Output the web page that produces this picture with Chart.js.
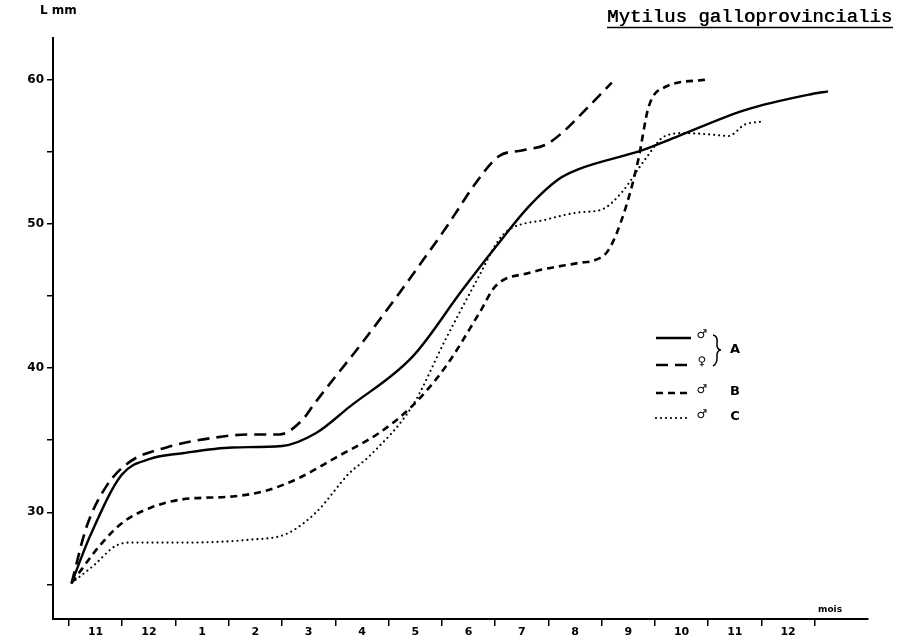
<!DOCTYPE html>
<html>
<head>
<meta charset="utf-8">
<script src="https://cdn.jsdelivr.net/npm/chart.js@4"></script>
<style>
  html, body { margin: 0; padding: 0; background: #fff; }
  #wrap { width: 901px; height: 640px; }
</style>
</head>
<body>
<div id="wrap"><canvas id="chart"></canvas></div>
<script>
// month labels, centred between the month boundary ticks
var monthLabels = ["11", "12", "1", "2", "3", "4", "5", "6", "7", "8", "9", "10", "11", "12"];
var yLabelTicks = [25, 30, 35, 40, 45, 50, 55, 60];

// A, solid line
var aSolidT = [0.05, 0.39, 0.99, 1.52, 2.13, 3.07, 4.0, 4.64, 5.26, 6.45, 7.38, 8.01, 8.63, 9.19, 9.57, 10.75, 11.44, 12.69, 13.93, 14.25];
var aSolidL = [25.1, 28.3, 32.6, 33.7, 34.1, 34.5, 34.6, 35.5, 37.3, 40.8, 45.4, 48.4, 51.2, 53.1, 53.8, 55.1, 56.1, 57.9, 59.0, 59.2];

// A, long dashes
var aDashT = [0.05, 0.33, 0.7, 1.14, 1.83, 2.77, 3.39, 3.95, 4.38, 4.6, 5.0, 5.45, 6.2, 6.57, 7.07, 7.32, 7.57, 8.07, 8.5, 8.95, 9.25, 9.69, 10.19];
var aDashL = [25.1, 29.0, 31.8, 33.5, 34.5, 35.2, 35.4, 35.4, 36.4, 37.5, 39.4, 41.5, 45.2, 47.1, 49.7, 51.1, 52.5, 54.7, 55.1, 55.5, 56.3, 57.9, 59.8];

// B, short dashes
var bT = [0.05, 0.58, 1.01, 1.52, 2.13, 3.07, 3.7, 4.33, 5.01, 5.82, 6.45, 7.07, 7.7, 8.01, 8.63, 9.57, 9.88, 10.13, 10.44, 10.69, 10.88, 11.19, 11.94];
var bL = [25.1, 27.7, 29.3, 30.3, 30.9, 31.1, 31.5, 32.4, 33.8, 35.5, 37.4, 40.1, 43.8, 45.7, 46.6, 47.3, 47.5, 48.2, 51.0, 54.5, 58.1, 59.5, 60.0];

// C, dotted
var cT = [0.05, 0.46, 0.89, 1.2, 2.13, 3.39, 4.08, 4.64, 5.26, 5.64, 6.45, 7.07, 7.7, 8.07, 8.26, 8.95, 9.57, 10.0, 10.38, 10.82, 11.19, 11.56, 12.06, 12.38, 12.69, 13.0];
var cL = [25.1, 26.3, 27.7, 27.9, 27.9, 28.1, 28.5, 30.0, 32.7, 33.9, 37.4, 42.0, 46.4, 48.9, 49.6, 50.3, 50.8, 51.0, 52.2, 54.5, 56.1, 56.3, 56.2, 56.1, 56.9, 57.1];

function pts(t, l) {
    return t.map(function(v, i) { return { x: v, y: l[i] }; });
}

var FONT = "'DejaVu Sans', sans-serif";

// title, axis captions and the hand-made legend with the brace
var extras = {
    id: "extras",
    afterDraw: function(chart) {
        var ctx = chart.ctx;
        ctx.save();
        ctx.fillStyle = "#000";
        ctx.strokeStyle = "#000";

        ctx.font = "19px 'Liberation Mono', monospace";
        ctx.textBaseline = "alphabetic";
        ctx.textAlign = "left";
        ctx.fillText("Mytilus galloprovincialis", 607, 22);
        ctx.fillText("Mytilus galloprovincialis", 607.6, 22);
        ctx.lineWidth = 1.5;
        ctx.beginPath();
        ctx.moveTo(607, 27.5);
        ctx.lineTo(893, 27.5);
        ctx.stroke();

        ctx.font = "bold 12px " + FONT;
        ctx.fillText("L mm", 40, 14);

        ctx.font = "bold 9px " + FONT;
        ctx.fillText("mois", 818, 612);

        // legend rows
        var rows = [
            { ds: 0, y: 338, sym: "\u2642" },
            { ds: 1, y: 365, sym: "\u2640" },
            { ds: 2, y: 393, sym: "\u2642", tag: "B" },
            { ds: 3, y: 418, sym: "\u2642", tag: "C" }
        ];
        rows.forEach(function(r) {
            var ds = chart.data.datasets[r.ds];
            ctx.save();
            ctx.lineWidth = ds.borderWidth;
            ctx.setLineDash(ds.borderDash || []);
            ctx.lineCap = ds.borderCapStyle || "butt";
            ctx.beginPath();
            ctx.moveTo(656, r.y);
            ctx.lineTo(691, r.y);
            ctx.stroke();
            ctx.restore();
            ctx.font = "bold 12px " + FONT;
            ctx.textAlign = "center";
            ctx.textBaseline = "middle";
            ctx.fillText(r.sym, 702, r.y - 3);
            if (r.tag) {
                ctx.font = "bold 13px " + FONT;
                ctx.fillText(r.tag, 735, r.y - 1);
            }
        });
        // brace for A
        ctx.lineWidth = 1.5;
        ctx.beginPath();
        ctx.moveTo(713, 335);
        ctx.quadraticCurveTo(718, 336, 717, 343);
        ctx.lineTo(717, 346);
        ctx.quadraticCurveTo(718, 350, 721, 350);
        ctx.quadraticCurveTo(718, 350, 717, 354);
        ctx.lineTo(717, 358);
        ctx.quadraticCurveTo(717, 364, 713, 366);
        ctx.stroke();
        ctx.font = "bold 13px " + FONT;
        ctx.textAlign = "center";
        ctx.textBaseline = "middle";
        ctx.fillText("A", 735, 350);
        ctx.restore();
    }
};

function lineSet(label, data, width, dash, cap) {
    return {
        label: label,
        data: data,
        borderColor: "#000",
        backgroundColor: "#000",
        borderWidth: width,
        borderDash: dash,
        borderCapStyle: cap || "butt",
        pointRadius: 0,
        fill: false,
        cubicInterpolationMode: "monotone"
    };
}

new Chart(document.getElementById("chart"), {
    type: "line",
    data: {
        datasets: [
            lineSet("A \u2642", pts(aSolidT, aSolidL), 2.4, []),
            lineSet("A \u2640", pts(aDashT, aDashL), 2.6, [12, 7]),
            lineSet("B", pts(bT, bL), 2.6, [7, 5]),
            lineSet("C", pts(cT, cL), 2.2, [0, 5], "round")
        ]
    },
    plugins: [extras],
    options: {
        responsive: true,
        maintainAspectRatio: false,
        animation: false,
        layout: { padding: { top: 38, right: 33, left: 0, bottom: 0 } },
        plugins: {
            legend: { display: false },
            tooltip: { enabled: false }
        },
        scales: {
            x: {
                type: "linear",
                min: -0.3,
                max: 15,
                afterBuildTicks: function(axis) {
                    var t = [];
                    for (var i = 0; i <= 28; i++) t.push({ value: i / 2 });
                    axis.ticks = t;
                },
                afterFit: function(axis) { axis.height = 21; },
                border: { color: "#000", width: 2 },
                grid: {
                    drawOnChartArea: false,
                    tickLength: 7,
                    lineWidth: 1.5,
                    tickColor: function(c) {
                        return c.tick && Number.isInteger(c.tick.value) ? "#000" : "rgba(0,0,0,0)";
                    }
                },
                ticks: {
                    color: "#000",
                    padding: 0,
                    maxRotation: 0,
                    autoSkip: false,
                    font: { family: FONT, size: 11, weight: "bold" },
                    callback: function(v) {
                        if (Number.isInteger(v)) return "";
                        return monthLabels[Math.floor(v)] || "";
                    }
                }
            },
            y: {
                min: 22.6,
                max: 62.9,
                afterBuildTicks: function(axis) {
                    axis.ticks = yLabelTicks.map(function(v) { return { value: v }; });
                },
                afterFit: function(axis) { axis.width = 53; },
                border: { color: "#000", width: 2 },
                grid: {
                    drawOnChartArea: false,
                    tickLength: 6,
                    lineWidth: 1.5,
                    color: "#000"
                },
                ticks: {
                    color: "#000",
                    padding: 3,
                    autoSkip: false,
                    font: { family: FONT, size: 12, weight: "bold" },
                    callback: function(v) { return v % 10 === 0 ? String(v) : ""; }
                }
            }
        }
    }
});
</script>
</body>
</html>
